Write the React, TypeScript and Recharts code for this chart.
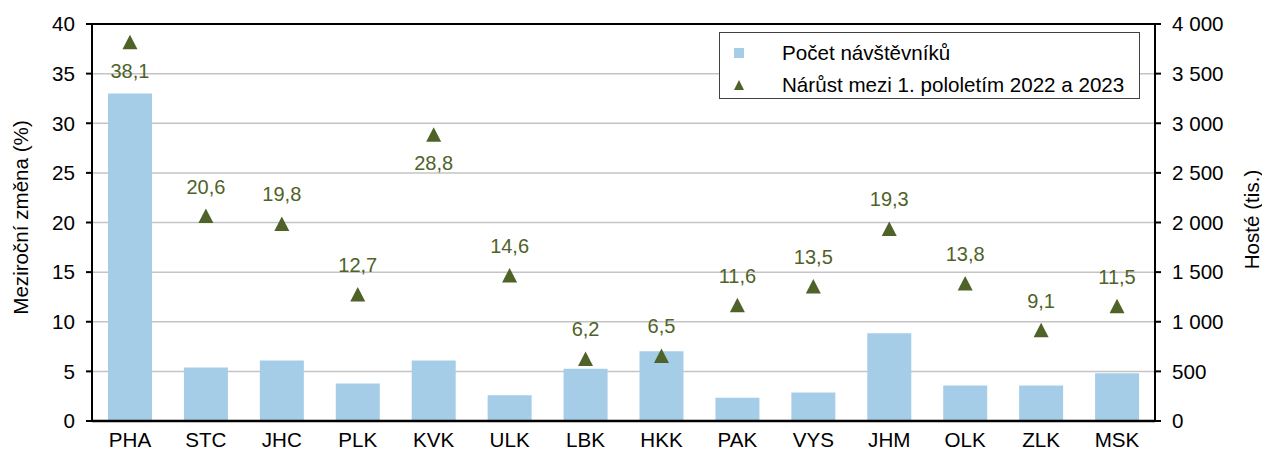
import React from 'react';
import {
  ComposedChart,
  Bar,
  Scatter,
  XAxis,
  YAxis,
  CartesianGrid,
  ReferenceLine,
  Legend,
} from 'recharts';

const regions = ['PHA', 'STC', 'JHC', 'PLK', 'KVK', 'ULK', 'LBK', 'HKK', 'PAK', 'VYS', 'JHM', 'OLK', 'ZLK', 'MSK'];
const guests = [3300, 540, 610, 378, 610, 260, 527, 704, 234, 288, 883, 358, 358, 482];
const growth = [38.1, 20.6, 19.8, 12.7, 28.8, 14.6, 6.2, 6.5, 11.6, 13.5, 19.3, 13.8, 9.1, 11.5];
const leftTicks = [0, 5, 10, 15, 20, 25, 30, 35, 40];
const rightTicks = [0, 500, 1000, 1500, 2000, 2500, 3000, 3500, 4000];

const data = regions.map((name, i) => ({ name, guests: guests[i], pct: growth[i] }));

const FONT = '"Liberation Sans", Arial, sans-serif';
const BAR_COLOR = '#A6CDE7';
const GREEN = '#4F6228';
const FS = 20.6;
const LFS = 20;

const fmtThousands = (v: number) => String(v).replace(/\B(?=(\d{3})+(?!\d))/g, '\u00a0');
const fmtPct = (v: number) => v.toFixed(1).replace('.', ',');

const TriangleShape = (props: any) => {
  const { cx, cy, payload } = props;
  if (cx == null || cy == null) return null;
  const below = payload.pct > 25;
  const ly = below ? cy + 28 : cy - 30;
  return (
    <g>
      <polygon
        points={`${cx},${cy - 8} ${cx - 7.5},${cy + 6.5} ${cx + 7.5},${cy + 6.5}`}
        fill={GREEN}
      />
      <text
        x={cx}
        y={ly}
        textAnchor="middle"
        dominantBaseline="central"
        fill={GREEN}
        fontSize={LFS}
        fontFamily={FONT}
      >
        {fmtPct(payload.pct)}
      </text>
    </g>
  );
};

const renderLegend = () => (
  <div
    style={{
      width: 419,
      height: 65,
      border: '1px solid #404040',
      background: '#fff',
      fontFamily: FONT,
      fontSize: FS,
      color: '#000',
      position: 'relative',
      boxSizing: 'content-box',
    }}
  >
    <div style={{ position: 'absolute', left: 14, top: 15, width: 10, height: 10, background: BAR_COLOR }} />
    <div style={{ position: 'absolute', left: 62, top: 20, transform: 'translateY(-50%)', whiteSpace: 'nowrap' }}>
      Počet návštěvníků
    </div>
    <svg style={{ position: 'absolute', left: 13, top: 46 }} width={12} height={12}>
      <polygon points="6,1 1,11 11,11" fill={GREEN} />
    </svg>
    <div style={{ position: 'absolute', left: 62, top: 52, transform: 'translateY(-50%)', whiteSpace: 'nowrap' }}>
      Nárůst mezi 1. pololetím 2022 a 2023
    </div>
  </div>
);

const LeftLabel = (props: any) => {
  const { viewBox } = props;
  const x = viewBox.x + 20;
  const y = viewBox.y + viewBox.height / 2 - 5;
  return (
    <text
      x={x}
      y={y}
      transform={`rotate(-90, ${x}, ${y})`}
      textAnchor="middle"
      dominantBaseline="central"
      fontSize={FS}
      fontFamily={FONT}
      fill="#000"
    >
      Meziroční změna (%)
    </text>
  );
};

const RightLabel = (props: any) => {
  const { viewBox } = props;
  const x = viewBox.x + 96;
  const y = viewBox.y + viewBox.height / 2 - 3;
  return (
    <text
      x={x}
      y={y}
      transform={`rotate(-90, ${x}, ${y})`}
      textAnchor="middle"
      dominantBaseline="central"
      fontSize={FS}
      fontFamily={FONT}
      fill="#000"
    >
      Hosté (tis.)
    </text>
  );
};

export default function App() {
  const tickStyle = { fill: '#000', fontSize: FS, fontFamily: FONT };
  return (
    <div style={{ position: 'absolute', left: 0, top: 0, width: 1262, height: 452, background: '#fff', fontFamily: FONT }}>
      <ComposedChart
        width={1262}
        height={452}
        data={data}
        margin={{ top: 24, right: 0, bottom: 0, left: 0 }}
        style={{ fontFamily: FONT }}
      >
        <CartesianGrid yAxisId="left" vertical={false} stroke="#C4C4C4" strokeWidth={1.5} />
        <XAxis
          dataKey="name"
          tickLine={false}
          axisLine={{ stroke: '#000', strokeWidth: 2.5 }}
          tick={tickStyle}
          tickSize={0}
          tickMargin={11}
          height={31}
          interval={0}
        />
        <YAxis
          yAxisId="left"
          domain={[0, 40]}
          ticks={leftTicks}
          interval={0}
          width={92}
          axisLine={{ stroke: '#000', strokeWidth: 2 }}
          tickLine={{ stroke: '#000', strokeWidth: 2 }}
          tickSize={6}
          tickMargin={11}
          tick={tickStyle}
          label={<LeftLabel />}
        />
        <YAxis
          yAxisId="right"
          orientation="right"
          domain={[0, 4000]}
          ticks={rightTicks}
          interval={0}
          width={107}
          axisLine={{ stroke: '#000', strokeWidth: 2 }}
          tickLine={{ stroke: '#000', strokeWidth: 2 }}
          tickSize={6}
          tickMargin={11}
          tick={tickStyle}
          tickFormatter={fmtThousands}
          label={<RightLabel />}
        />
        <ReferenceLine yAxisId="left" y={40} stroke="#000" strokeWidth={2} />
        <Legend
          content={renderLegend}
          layout="horizontal"
          verticalAlign="middle"
          align="center"
          wrapperStyle={{ position: 'absolute', top: 32, left: 719, width: 421, height: 67 }}
        />
        <Bar
          yAxisId="right"
          dataKey="guests"
          name="Počet návštěvníků"
          fill={BAR_COLOR}
          barSize={44}
          isAnimationActive={false}
        />
        <Scatter
          yAxisId="left"
          dataKey="pct"
          name="Nárůst mezi 1. pololetím 2022 a 2023"
          fill={GREEN}
          shape={TriangleShape}
          isAnimationActive={false}
        />
      </ComposedChart>
    </div>
  );
}
